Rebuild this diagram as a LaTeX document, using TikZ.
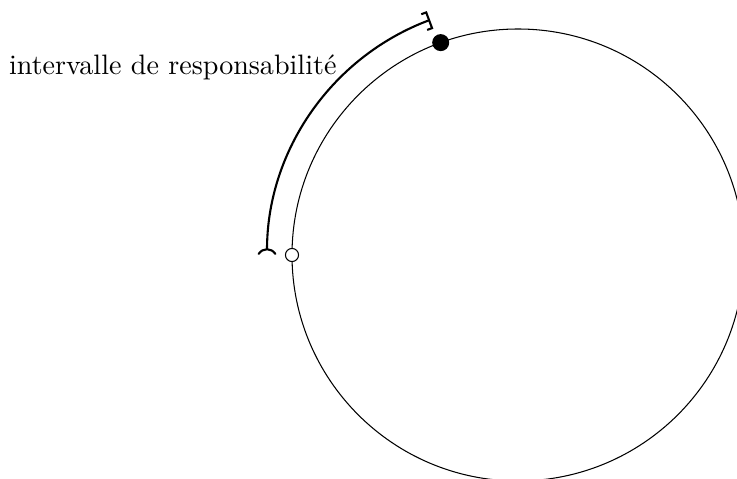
\documentclass[tikz,border=0pt]{standalone}
\usetikzlibrary{arrows}
\begin{document}
\begin{tikzpicture}[x=0.38168pt,y=0.38168pt,
  ring/.style={line width=0.4pt},
  interval/.style={thick},
  fulldot/.style={circle,fill=black,inner sep=0pt,minimum size=6.5pt},
  opendot/.style={circle,draw,fill=white,line width=0.4pt,inner sep=0pt,minimum size=5pt}]
\useasboundingbox (0,0) rectangle (737,479);
\clip (0,0) rectangle (737,479);
\coordinate (c) at (518,224);
\draw[ring] (c) circle[radius=226];
\draw[interval,arrows={)-]}] ([shift={(180:251)}]c) arc[start angle=180,end angle=110.5,radius=251];
\node[fulldot] (n) at ([shift={(110:226)}]c) {};
\node[opendot] (p) at ([shift={(180:226)}]c) {};
\node[anchor=base east,inner sep=0pt,font=\fontsize{10.72}{13}\selectfont] (lbl) at (337,404) {intervalle de responsabilité};
\end{tikzpicture}
\end{document}
